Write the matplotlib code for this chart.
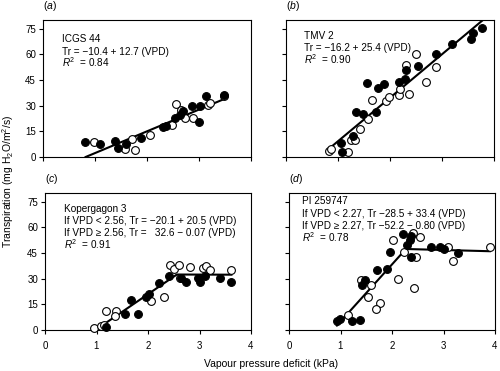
import matplotlib
matplotlib.use("Agg")
import matplotlib.pyplot as plt

plt.rcParams['font.family'] = ['Liberation Sans', 'DejaVu Sans']
plt.rcParams['mathtext.fontset'] = 'custom'
plt.rcParams['mathtext.rm'] = 'Liberation Sans'
plt.rcParams['mathtext.it'] = 'Liberation Sans:italic'

# ---------------- data ----------------
# Panel (a) ICGS 44
a_fill_x = [0.81, 1.10, 1.39, 1.44, 1.59, 1.89, 2.30, 2.37, 2.54, 2.63, 2.70, 2.86, 3.00, 3.02, 3.13, 3.49]
a_fill_y = [8.9, 7.4, 9.5, 5.4, 7.4, 10.9, 17.4, 18.2, 22.5, 24.8, 26.7, 29.8, 20.5, 29.8, 35.5, 36.0]
a_open_x = [0.99, 1.58, 1.71, 1.77, 2.05, 2.49, 2.55, 2.66, 2.73, 2.89, 3.18, 3.21, 3.48]
a_open_y = [8.5, 4.7, 10.5, 4.3, 12.8, 18.6, 30.8, 27.3, 22.5, 22.5, 30.2, 31.8, 35.5]
a_fit_x = [0.82, 3.48]
a_fit_y = [0.0, 33.8]

# Panel (b) TMV 2
b_fill_x = [1.06, 1.08, 1.29, 1.34, 1.48, 1.56, 1.73, 1.77, 1.88, 2.17, 2.29, 2.31, 2.53, 2.89, 3.20, 3.55, 3.60, 3.76]
b_fill_y = [8.3, 2.7, 12.4, 26.4, 25.4, 43.0, 26.4, 40.0, 42.8, 43.8, 45.3, 50.6, 52.9, 59.9, 66.0, 69.0, 72.5, 75.2]
b_open_x = [0.83, 0.87, 1.19, 1.25, 1.32, 1.43, 1.58, 1.66, 1.92, 1.99, 2.18, 2.19, 2.31, 2.37, 2.50, 2.70, 2.89]
b_open_y = [3.5, 4.7, 3.1, 9.9, 9.9, 16.3, 22.0, 33.0, 32.6, 35.0, 36.0, 39.5, 53.9, 36.8, 60.3, 43.8, 52.5]
b_fit_x = [0.85, 3.78]
b_fit_y = [5.4, 79.8]

# Panel (c) Kopergagon 3
c_fill_x = [1.19, 1.56, 1.67, 1.80, 1.97, 2.01, 2.22, 2.41, 2.65, 2.73, 2.97, 3.00, 3.10, 3.40, 3.61]
c_fill_y = [1.6, 9.3, 17.4, 9.3, 19.0, 21.3, 27.7, 31.6, 30.6, 28.3, 30.2, 28.1, 31.6, 30.2, 28.1]
c_open_x = [0.95, 1.08, 1.15, 1.19, 1.37, 1.35, 2.06, 2.31, 2.42, 2.50, 2.60, 2.62, 2.81, 3.06, 3.12, 3.21, 3.61]
c_open_y = [1.2, 2.5, 3.1, 10.9, 10.9, 8.3, 17.0, 19.0, 38.0, 35.5, 38.0, 30.6, 36.8, 36.2, 37.2, 35.3, 35.3]
c_fit_x = [0.98, 2.56, 3.62]
c_fit_y = [0.0, 32.4, 32.3]

# Panel (d) PI 259747
d_fill_x = [0.94, 0.99, 1.22, 1.38, 1.42, 1.48, 1.71, 1.90, 1.97, 2.22, 2.29, 2.35, 2.37, 2.37, 2.76, 2.94, 3.00, 3.28]
d_fill_y = [5.4, 6.4, 5.4, 6.0, 26.2, 29.1, 35.1, 35.9, 45.5, 56.2, 49.6, 52.3, 54.8, 42.6, 48.4, 48.4, 47.1, 44.8]
d_open_x = [1.15, 1.40, 1.59, 1.53, 1.77, 1.69, 2.01, 2.12, 2.24, 2.41, 2.46, 2.43, 2.55, 3.08, 3.18, 3.90]
d_open_y = [8.9, 29.3, 26.2, 19.4, 15.5, 12.2, 52.5, 29.7, 45.5, 56.4, 42.6, 24.8, 54.5, 48.4, 40.3, 48.6]
d_fit_x = [0.93, 2.27, 3.90]
d_fit_y = [2.6, 47.3, 46.0]

x_ticks = [0, 1, 2, 3, 4]
y_ticks = [0, 15, 30, 45, 60, 75]

panel_letters = ['a', 'b', 'c', 'd']
texts_a = ["ICGS 44", "Tr = \u221210.4 + 12.7 (VPD)", r"$R^2$  = 0.84"]
texts_b = ["TMV 2", "Tr = \u221216.2 + 25.4 (VPD)", r"$R^2$  = 0.90"]
texts_c = ["Kopergagon 3", "If VPD < 2.56, Tr = \u221220.1 + 20.5 (VPD)",
           "If VPD \u2265 2.56, Tr =   32.6 \u2212 0.07 (VPD)", r"$R^2$  = 0.91"]
texts_d = ["PI 259747", "If VPD < 2.27, Tr \u221228.5 + 33.4 (VPD)",
           "If VPD \u2265 2.27, Tr \u221252.2 \u2212 0.80 (VPD)", r"$R^2$  = 0.78"]

# ---------------- figure ----------------
fig = plt.figure(figsize=(5.0, 3.71), dpi=100)
W, H = 500, 371

def px_axes(l, r, t, b):
    return fig.add_axes([l / W, 1 - b / H, (r - l) / W, (b - t) / H])

axa = px_axes(43, 251, 20, 157)
axb = px_axes(286, 494, 20, 157)
axc = px_axes(45, 251, 193, 330)
axd = px_axes(289, 495, 193, 330)

panels = [
    (axa, a_fill_x, a_fill_y, a_open_x, a_open_y, a_fit_x, a_fit_y, texts_a,
     0.09, [0.839, 0.748, 0.657], True, False),
    (axb, b_fill_x, b_fill_y, b_open_x, b_open_y, b_fit_x, b_fit_y, texts_b,
     0.087, [0.861, 0.774, 0.679], False, False),
    (axc, c_fill_x, c_fill_y, c_open_x, c_open_y, c_fit_x, c_fit_y, texts_c,
     0.092, [0.861, 0.771, 0.684, 0.593], True, True),
    (axd, d_fill_x, d_fill_y, d_open_x, d_open_y, d_fit_x, d_fit_y, texts_d,
     0.063, [0.920, 0.828, 0.737, 0.645], False, True),
]

for i, (ax, fx, fy, ox, oy, lx, ly, txts, tx, tys, ylab, xlab) in enumerate(panels):
    ax.plot(lx, ly, color='black', lw=1.5, zorder=2)
    ax.plot(ox, oy, 'o', ms=5.6, mfc='white', mec='black', mew=0.8, zorder=3, clip_on=False)
    ax.plot(fx, fy, 'o', ms=5.6, mfc='black', mec='black', mew=0.8, zorder=4, clip_on=False)
    ax.set_xlim(0, 4)
    ax.set_ylim(0, 80)
    ax.set_xticks(x_ticks)
    ax.set_yticks(y_ticks)
    ax.tick_params(direction='out', length=3, width=0.8, labelsize=7, pad=2)
    if not ylab:
        ax.set_yticklabels([])
    if not xlab:
        ax.set_xticklabels([])
    else:
        ax.tick_params(axis='x', pad=5)
    for s in ax.spines.values():
        s.set_linewidth(0.8)
    for t, ty in zip(txts, tys):
        ax.text(tx, ty, t, transform=ax.transAxes, fontsize=7.2, ha='left', va='baseline')
    ax.text(0.0, 1.05, r"($\mathit{" + panel_letters[i] + r"}$)", transform=ax.transAxes,
            fontsize=7.5, ha='left', va='bottom')

fig.text(0.016, 1 - 181.5 / H, r"Transpiration (mg H$_2$O/m$^2$/s)", rotation=90,
         ha='center', va='center', fontsize=7.5)
fig.text(271 / W, 1 - 364 / H, "Vapour pressure deficit (kPa)", ha='center', va='center',
         fontsize=7.5)

fig.savefig("out.png", dpi=100)
